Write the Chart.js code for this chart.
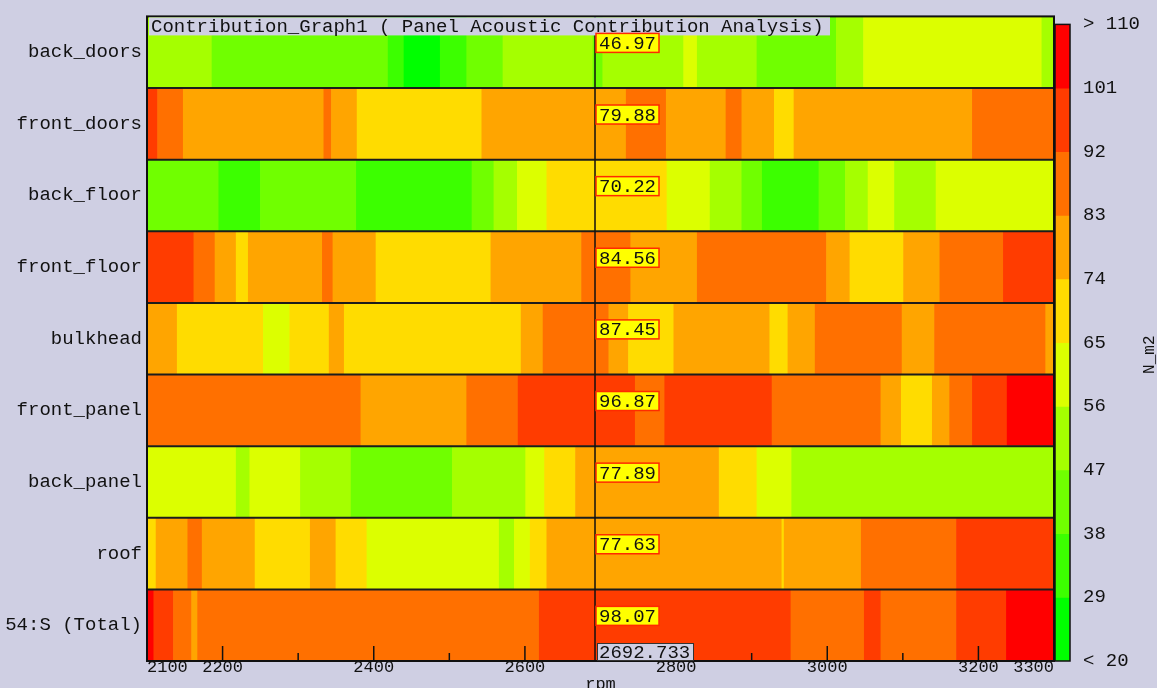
<!DOCTYPE html>
<html>
<head>
<meta charset="utf-8">
<title>Contribution_Graph1</title>
<script src="https://cdn.jsdelivr.net/npm/chart.js@4.4.1/dist/chart.umd.min.js"></script>
<style>
  html, body { margin: 0; padding: 0; background: #CFCFE3; }
  #wrap { position: relative; width: 1157px; height: 688px; overflow: hidden; background: #CFCFE3; }
  #wrap canvas { position: absolute; top: 0; }
  #main { left: 0; }
  #scale { left: 1054px; }
</style>
</head>
<body>
<div id="wrap">
  <canvas id="main" width="1157" height="688"></canvas>
  <canvas id="scale" width="103" height="688"></canvas>
</div>
<script>
// Panels, top to bottom
const ROWS = ['back_doors', 'front_doors', 'back_floor', 'front_floor', 'bulkhead',
              'front_panel', 'back_panel', 'roof', '54:S (Total)'];

// rpm axis
const RPM_MIN = 2100;
const RPM_MAX = 3300;
const X_TICKS = [2100, 2200, 2300, 2400, 2500, 2600, 2700, 2800, 2900, 3000, 3100, 3200, 3300];
const X_LABELED = [2100, 2200, 2400, 2600, 2800, 3000, 3200, 3300];
const CURSOR_RPM = 2692.733;

// Colour classes of the N_m2 scale
const BIN_EDGES = [20, 29, 38, 47, 56, 65, 74, 83, 92, 101, 110];
const BIN_COLORS = ['#00FF00', '#3CFF00', '#70FF00', '#A5FF00', '#DCFF00',
                    '#FFDC00', '#FFA500', '#FF7000', '#FF3C00', '#FF0000'];

// Per panel: rpm band edges and the level in each band
const backDoorsEdges  = [2100, 2186, 2419, 2440, 2488, 2523, 2571, 2690, 2703, 2810, 2828, 2907, 3012, 3048, 3284, 3300];
const backDoorsLevels = [52, 43, 34, 25, 34, 42, 51, 46.97, 51, 60, 52, 44, 51, 60, 52];

const frontDoorsEdges  = [2100, 2114, 2148, 2334, 2344, 2378, 2543, 2734, 2787, 2866, 2887, 2930, 2956, 3192, 3300];
const frontDoorsLevels = [96, 88, 79, 86, 80, 70, 79.88, 87, 78, 86, 79, 71, 80, 88];

const backFloorEdges  = [2100, 2195, 2250, 2377, 2530, 2559, 2590, 2629, 2788, 2845, 2887, 2914, 2989, 3024, 3054, 3089, 3144, 3300];
const backFloorLevels = [43, 35, 42, 33, 44, 52, 61, 70.22, 60, 51, 43, 34, 44, 52, 59, 53, 61];

const frontFloorEdges  = [2100, 2162, 2190, 2218, 2234, 2332, 2346, 2403, 2555, 2675, 2740, 2828, 2999, 3030, 3101, 3149, 3233, 3300];
const frontFloorLevels = [97, 88, 80, 71, 79, 86, 78, 70, 79, 84.56, 80, 88, 79, 70, 80, 89, 95];

const bulkheadEdges  = [2100, 2140, 2254, 2289, 2341, 2361, 2595, 2624, 2711, 2737, 2797, 2924, 2948, 2984, 3099, 3142, 3289, 3300];
const bulkheadLevels = [79, 70, 60, 69, 78, 70, 80, 87.45, 81, 72, 79, 71, 80, 87, 81, 88, 82];

const frontPanelEdges  = [2100, 2383, 2523, 2591, 2746, 2785, 2927, 3071, 3098, 3139, 3162, 3192, 3238, 3300];
const frontPanelLevels = [88, 80, 86, 96.87, 90, 95, 88, 81, 72, 80, 89, 97, 104];

const backPanelEdges  = [2100, 2218, 2236, 2303, 2370, 2504, 2601, 2626, 2667, 2857, 2907, 2953, 3300];
const backPanelLevels = [60, 52, 61, 51, 44, 53, 62, 70, 77.89, 69, 61, 53];

const roofEdges  = [2100, 2112, 2154, 2173, 2243, 2316, 2350, 2391, 2566, 2586, 2607, 2629, 2940, 2943, 3045, 3171, 3300];
const roofLevels = [70, 79, 85, 78, 71, 80, 72, 62, 54, 63, 73, 77.63, 73, 80, 89, 94];

const totalEdges  = [2100, 2109, 2135, 2159, 2167, 2619, 2952, 3049, 3071, 3171, 3237, 3300];
const totalLevels = [103, 97, 90, 82, 91, 98.07, 91, 96, 90, 97, 105];

const ROW_EDGES  = [backDoorsEdges, frontDoorsEdges, backFloorEdges, frontFloorEdges, bulkheadEdges,
                    frontPanelEdges, backPanelEdges, roofEdges, totalEdges];
const ROW_LEVELS = [backDoorsLevels, frontDoorsLevels, backFloorLevels, frontFloorLevels, bulkheadLevels,
                    frontPanelLevels, backPanelLevels, roofLevels, totalLevels];

const BG = '#CFCFE3';
const INK = '#111111';
const FONT = '"Liberation Mono", "DejaVu Sans Mono", monospace';

function colorFor(v) {
  for (let i = BIN_COLORS.length - 1; i > 0; i--) {
    if (v >= BIN_EDGES[i]) return BIN_COLORS[i];
  }
  return BIN_COLORS[0];
}

function levelAt(rowIndex, rpm) {
  const e = ROW_EDGES[rowIndex], l = ROW_LEVELS[rowIndex];
  for (let j = 0; j < l.length; j++) {
    if (rpm >= e[j] && rpm < e[j + 1]) return l[j];
  }
  return l[l.length - 1];
}

// One floating bar per rpm band
const cells = [];
ROWS.forEach((name, i) => {
  const e = ROW_EDGES[i], l = ROW_LEVELS[i];
  for (let j = 0; j < l.length; j++) {
    cells.push({ x: [e[j], e[j + 1]], y: name, v: l[j] });
  }
});

const overlay = {
  id: 'overlay',
  beforeDraw(chart) {
    const { ctx, width, height } = chart;
    ctx.save();
    ctx.fillStyle = BG;
    ctx.fillRect(0, 0, width, height);
    ctx.restore();
  },
  afterDraw(chart) {
    const { ctx, chartArea: a, scales: { x, y } } = chart;
    const rowH = y.getPixelForValue(1) - y.getPixelForValue(0);
    ctx.save();

    // panel separators
    ctx.strokeStyle = '#1c1c1c';
    ctx.lineWidth = 2;
    for (let i = 1; i < ROWS.length; i++) {
      const py = y.getPixelForValue(i) - rowH / 2;
      ctx.beginPath();
      ctx.moveTo(a.left, py);
      ctx.lineTo(a.right, py);
      ctx.stroke();
    }

    // frame
    ctx.strokeStyle = INK;
    ctx.lineWidth = 2;
    ctx.strokeRect(a.left, a.top, a.right - a.left, a.bottom - a.top);

    // tick marks inside the plot
    ctx.lineWidth = 1.5;
    X_TICKS.forEach(v => {
      if (v === RPM_MIN || v === RPM_MAX) return;
      const px = x.getPixelForValue(v);
      const len = (v % 200 === 0) ? 15 : 8;
      ctx.beginPath();
      ctx.moveTo(px, a.bottom);
      ctx.lineTo(px, a.bottom - len);
      ctx.stroke();
    });

    // cursor line
    const cx = x.getPixelForValue(CURSOR_RPM);
    ctx.lineWidth = 1.5;
    ctx.beginPath();
    ctx.moveTo(cx, a.top);
    ctx.lineTo(cx, a.bottom);
    ctx.stroke();

    // title
    ctx.font = '19px ' + FONT;
    ctx.textBaseline = 'middle';
    ctx.textAlign = 'left';
    ctx.fillStyle = BG;
    ctx.fillRect(a.left + 2, a.top + 1, 681, 18);
    ctx.fillStyle = INK;
    ctx.fillText('Contribution_Graph1 ( Panel Acoustic Contribution Analysis)', a.left + 4, a.top + 10.5);

    // level readout at the cursor for each panel
    ROWS.forEach((name, i) => {
      const top = y.getPixelForValue(i) - rowH / 2 + 17;
      const bx = cx + 1, bw = 63, bh = 19;
      ctx.fillStyle = '#FFFF00';
      ctx.fillRect(bx, top, bw, bh);
      ctx.strokeStyle = '#FF2A00';
      ctx.lineWidth = 1.5;
      ctx.strokeRect(bx, top, bw, bh);
      ctx.fillStyle = INK;
      ctx.fillText(levelAt(i, CURSOR_RPM).toFixed(2), bx + 3, top + bh / 2 + 1);
    });

    // cursor rpm readout
    const rw = 96, rh = 18;
    ctx.fillStyle = BG;
    ctx.fillRect(cx + 2, a.bottom - rh, rw, rh);
    ctx.strokeStyle = '#333';
    ctx.lineWidth = 1;
    ctx.strokeRect(cx + 2.5, a.bottom - rh + 0.5, rw, rh - 1);
    ctx.fillStyle = INK;
    ctx.fillText(CURSOR_RPM.toFixed(3), cx + 4, a.bottom - rh / 2 + 1);

    ctx.restore();
  }
};

new Chart(document.getElementById('main'), {
  type: 'bar',
  data: {
    labels: ROWS,
    datasets: [{
      data: cells,
      backgroundColor: c => colorFor(c.raw ? c.raw.v : 0),
      borderWidth: 0,
      barPercentage: 1,
      categoryPercentage: 1
    }]
  },
  options: {
    indexAxis: 'y',
    responsive: false,
    animation: false,
    devicePixelRatio: 1,
    layout: { padding: { top: 16, right: 103, left: 0, bottom: 0 } },
    plugins: { legend: { display: false }, tooltip: { enabled: false } },
    scales: {
      x: {
        type: 'linear',
        position: 'bottom',
        min: RPM_MIN,
        max: RPM_MAX,
        afterBuildTicks: s => { s.ticks = X_TICKS.map(v => ({ value: v })); },
        afterFit: s => { s.height = 27; },
        grid: { display: false, drawTicks: false },
        border: { display: false },
        ticks: {
          autoSkip: false,
          maxRotation: 0,
          align: 'inner',
          padding: -4,
          color: INK,
          font: { family: FONT, size: 17 },
          callback: v => X_LABELED.includes(v) ? String(v) : ''
        },
        title: {
          display: true,
          text: 'rpm',
          color: INK,
          font: { family: FONT, size: 17 },
          padding: { top: 0, bottom: -7 }
        }
      },
      y: {
        type: 'category',
        position: 'left',
        offset: true,
        afterFit: s => { s.width = 147; },
        grid: { display: false, drawTicks: false },
        border: { display: false },
        ticks: {
          autoSkip: false,
          padding: 5,
          color: INK,
          font: { family: FONT, size: 19 }
        }
      }
    }
  },
  plugins: [overlay]
});

// Colour scale
const scaleFrame = {
  id: 'scaleFrame',
  afterDraw(chart) {
    const { ctx, chartArea: a, width } = chart;
    ctx.save();
    ctx.strokeStyle = INK;
    ctx.lineWidth = 1.5;
    ctx.strokeRect(a.left, a.top, a.right - a.left, a.bottom - a.top);
    ctx.translate(width - 7, (a.top + a.bottom) / 2 + 12);
    ctx.rotate(-Math.PI / 2);
    ctx.fillStyle = INK;
    ctx.font = '16px ' + FONT;
    ctx.textAlign = 'center';
    ctx.textBaseline = 'middle';
    ctx.fillText('N_m2', 0, 0);
    ctx.restore();
  }
};

new Chart(document.getElementById('scale'), {
  type: 'bar',
  data: {
    labels: ['bins'],
    datasets: [{
      data: BIN_COLORS.map((c, i) => ({ x: 'bins', y: [BIN_EDGES[i], BIN_EDGES[i + 1]] })),
      backgroundColor: BIN_COLORS,
      borderWidth: 0,
      barPercentage: 1,
      categoryPercentage: 1
    }]
  },
  options: {
    responsive: false,
    animation: false,
    devicePixelRatio: 1,
    layout: { padding: { top: 16, bottom: 27, left: 1, right: 0 } },
    plugins: { legend: { display: false }, tooltip: { enabled: false } },
    scales: {
      x: { type: 'category', display: false, offset: true },
      y: {
        type: 'linear',
        position: 'right',
        min: BIN_EDGES[0],
        max: BIN_EDGES[BIN_EDGES.length - 1],
        afterBuildTicks: s => { s.ticks = BIN_EDGES.map(v => ({ value: v })); },
        afterFit: s => { s.width = 87; },
        grid: { display: false, drawTicks: false },
        border: { display: false },
        ticks: {
          autoSkip: false,
          padding: 13,
          color: INK,
          font: { family: FONT, size: 19 },
          callback: v => v === BIN_EDGES[0] ? '< ' + v : (v === BIN_EDGES[BIN_EDGES.length - 1] ? '> ' + v : String(v))
        }
      }
    }
  },
  plugins: [scaleFrame]
});
</script>
</body>
</html>
